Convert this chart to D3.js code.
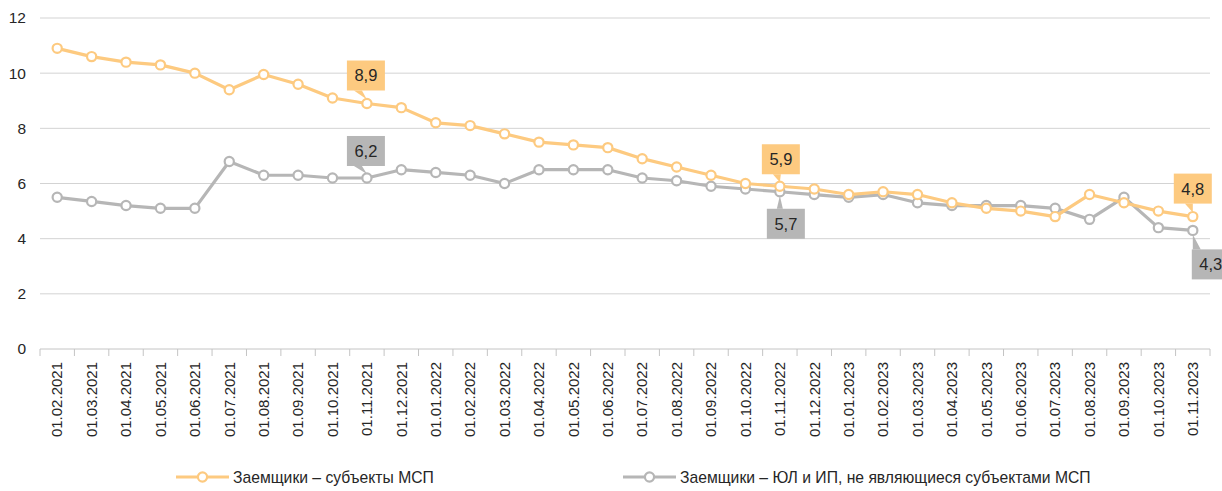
<!DOCTYPE html>
<html><head><meta charset="utf-8">
<script src="https://cdn.jsdelivr.net/npm/d3@7"></script>
<style>
html,body{margin:0;padding:0;background:#fff;}
svg{display:block;}
text{font-family:"Liberation Sans",Arial,sans-serif;fill:#262626;}
</style></head>
<body><svg id="c" width="1222" height="491"></svg>
<script>
const dates = ["01.02.2021","01.03.2021","01.04.2021","01.05.2021","01.06.2021","01.07.2021","01.08.2021","01.09.2021","01.10.2021","01.11.2021","01.12.2021",
"01.01.2022","01.02.2022","01.03.2022","01.04.2022","01.05.2022","01.06.2022","01.07.2022","01.08.2022","01.09.2022","01.10.2022","01.11.2022","01.12.2022",
"01.01.2023","01.02.2023","01.03.2023","01.04.2023","01.05.2023","01.06.2023","01.07.2023","01.08.2023","01.09.2023","01.10.2023","01.11.2023"];
const msp = [10.9,10.6,10.4,10.3,10.0,9.4,9.95,9.6,9.1,8.9,8.75,
8.2,8.1,7.8,7.5,7.4,7.3,6.9,6.6,6.3,6.0,5.9,5.8,
5.6,5.7,5.6,5.3,5.1,5.0,4.8,5.6,5.3,5.0,4.8];
const nonMsp = [5.5,5.35,5.2,5.1,5.1,6.8,6.3,6.3,6.2,6.2,6.5,
6.4,6.3,6.0,6.5,6.5,6.5,6.2,6.1,5.9,5.8,5.7,5.6,
5.5,5.6,5.3,5.2,5.2,5.2,5.1,4.7,5.5,4.4,4.3];
const yTicks = [0,2,4,6,8,10,12];
const seriesNames = ["Заемщики – субъекты МСП","Заемщики – ЮЛ и ИП, не являющиеся субъектами МСП"];

const svg = d3.select("#c");
const x = d3.scaleBand().domain(dates).range([40,1210]);
const y = d3.scaleLinear().domain([0,12]).range([349,18]);
const cx = d => x(d) + x.bandwidth()/2;
const ORANGE = "#FDCA80", GRAY = "#B6B6B6";

// grid
svg.append("g").selectAll("line").data(yTicks.filter(t=>t>0)).join("line")
  .attr("x1",40).attr("x2",1210).attr("y1",d=>y(d)).attr("y2",d=>y(d))
  .attr("stroke","#D3D3D3").attr("stroke-width",1);

// y axis labels
const ya = svg.append("g").attr("transform","translate(40,0)")
  .call(d3.axisLeft(y).tickValues(yTicks).tickSize(0).tickPadding(14).tickFormat(d3.format("d")));
ya.select(".domain").remove();
ya.selectAll("text").style("font-size","15.5px").style("font-family","'Liberation Sans',Arial,sans-serif").attr("fill","#262626");

// x axis
const xa = svg.append("g").attr("transform","translate(0,349)")
  .call(d3.axisBottom(x).tickSize(0).tickPadding(0));
xa.select(".domain").attr("stroke","#C4C4C4").attr("d","M40,0H1210");
xa.selectAll("text").style("font-size","15px").style("font-family","'Liberation Sans',Arial,sans-serif")
  .attr("fill","#262626").attr("text-anchor","end")
  .attr("transform","translate(0,13) rotate(-90)").attr("x",0).attr("dy","0.35em").attr("y",0);
// tick marks at band boundaries
const bounds = dates.map(d=>x(d)).concat([1210]);
svg.append("g").selectAll("line").data(bounds).join("line")
  .attr("x1",d=>d).attr("x2",d=>d).attr("y1",349).attr("y2",356)
  .attr("stroke","#C4C4C4").attr("stroke-width",1);

function drawSeries(vals,color){
  const line = d3.line().x((d,i)=>cx(dates[i])).y(d=>y(d));
  svg.append("path").datum(vals).attr("d",line).attr("fill","none")
    .attr("stroke",color).attr("stroke-width",3.2).attr("stroke-linejoin","round");
  svg.append("g").selectAll("circle").data(vals).join("circle")
    .attr("cx",(d,i)=>cx(dates[i])).attr("cy",d=>y(d)).attr("r",4.6)
    .attr("fill","#fff").attr("stroke",color).attr("stroke-width",2.2);
}
drawSeries(nonMsp,GRAY);
drawSeries(msp,ORANGE);

// callouts
const fmt = v => d3.format(".1f")(v).replace(".",",");
const calloutStyle = [
  {s:0,i:9, dx:-1, dy:-28, bx:[-12,-4]},
  {s:1,i:9, dx:-1, dy:-27, bx:[-12,-4]},
  {s:0,i:21,dx:1, dy:-27, bx:[-8,0]},
  {s:1,i:21,dx:6, dy:32, bx:[-9,-3]},
  {s:0,i:33,dx:0, dy:-28, bx:[-8,0]},
  {s:1,i:33,dx:18,dy:34, bx:[-18,-10]}
];
const BW=38, BH=30;
calloutStyle.forEach(c=>{
  const vals = c.s===0?msp:nonMsp;
  const px = cx(dates[c.i]), py = y(vals[c.i]);
  const bxC = px+c.dx, byC = py+c.dy;
  const color = c.s===0?ORANGE:GRAY;
  const edge = c.dy<0 ? byC+BH/2 : byC-BH/2;
  const g = svg.append("g");
  g.append("path").attr("d",`M${bxC+c.bx[0]},${edge}L${px},${py+(c.dy<0?-4:4)}L${bxC+c.bx[1]},${edge}Z`).attr("fill",color);
  g.append("rect").attr("x",bxC-BW/2).attr("y",byC-BH/2).attr("width",BW).attr("height",BH).attr("fill",color);
  g.append("text").attr("x",bxC).attr("y",byC).attr("dy","0.36em").attr("text-anchor","middle")
    .style("font-size","16.5px").text(fmt(vals[c.i]));
});

// legend
const legend = [{name:seriesNames[0],color:ORANGE,x:176},{name:seriesNames[1],color:GRAY,x:623}];
legend.forEach(l=>{
  const g = svg.append("g").attr("transform",`translate(${l.x},477)`);
  g.append("line").attr("x1",0).attr("x2",53).attr("stroke",l.color).attr("stroke-width",3.2);
  g.append("circle").attr("cx",26.5).attr("r",4.6).attr("fill","#fff").attr("stroke",l.color).attr("stroke-width",2.2);
  g.append("text").attr("x",57).attr("dy","0.35em").style("font-size","15.7px").text(l.name);
});
</script></body></html>
